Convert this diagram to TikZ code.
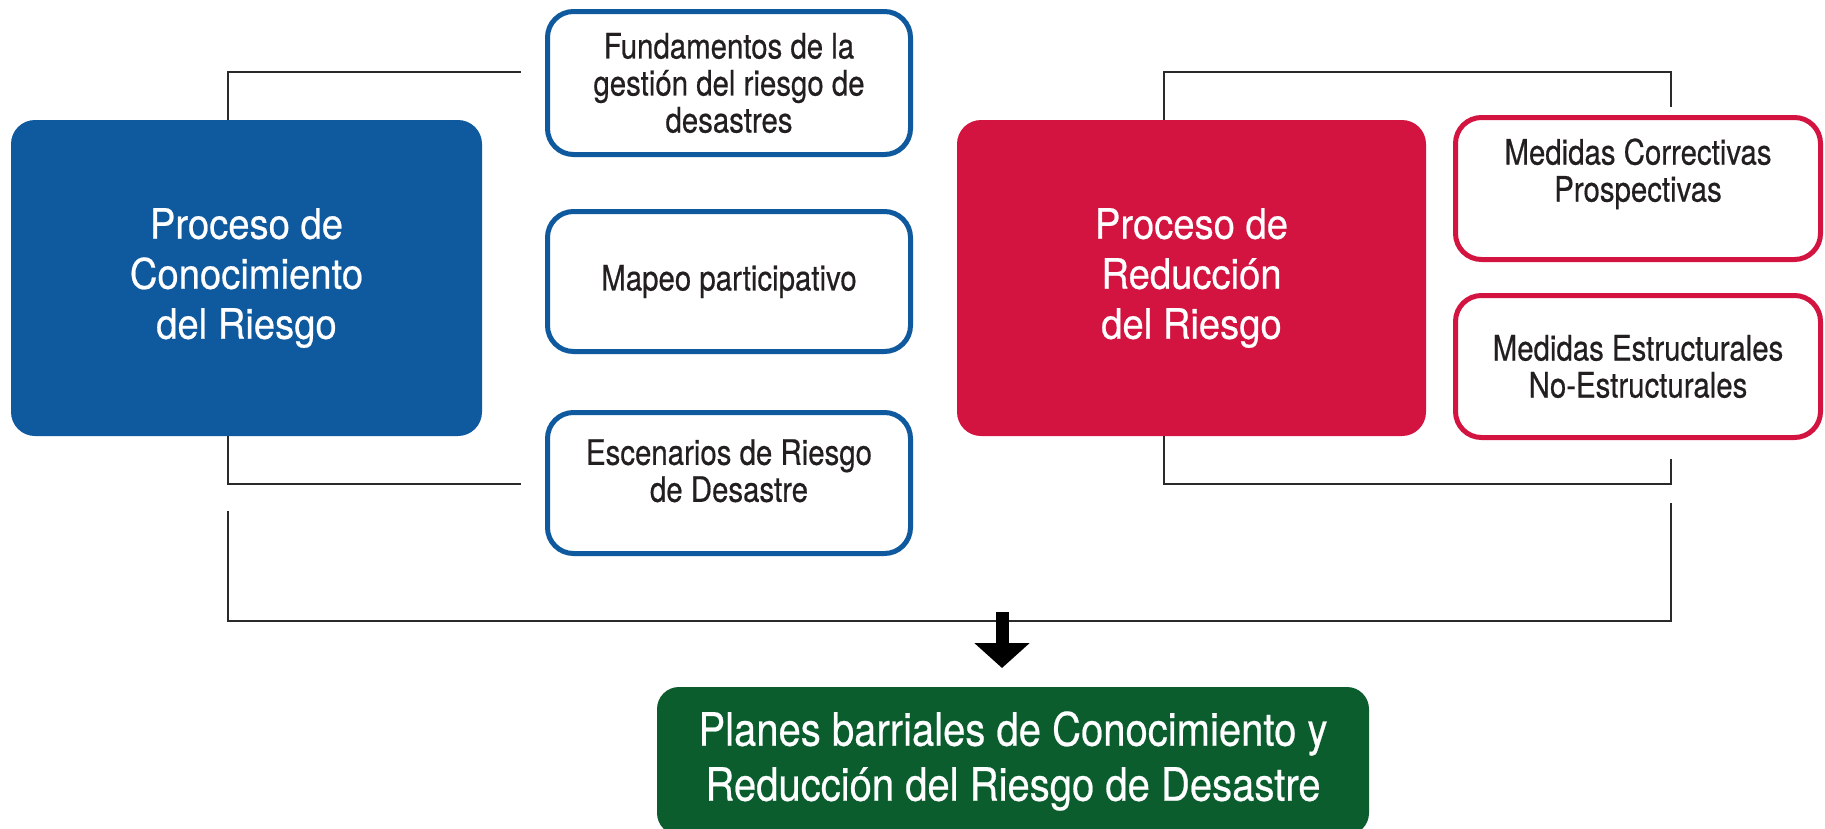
\documentclass[tikz,border=0pt]{standalone}
\usepackage{fontspec}
\setmainfont{TeX Gyre Heros}[FakeStretch=0.84,FakeBold=0.5]
\newfontfamily\bigfont{TeX Gyre Heros}[FakeStretch=0.91,FakeBold=0.5]
\newfontfamily\planfont{TeX Gyre Heros}[FakeStretch=0.87,FakeBold=0.5]
\usetikzlibrary{arrows.meta}
\definecolor{cblue}{HTML}{0F5A9E}
\definecolor{cred}{HTML}{D31441}
\definecolor{cgreen}{HTML}{0B5D2E}
\definecolor{ctext}{HTML}{231F20}
\definecolor{cline}{HTML}{2A2A2A}
\tikzset{
  bigbox/.style={rounded corners=24pt, inner sep=0pt, align=center, text=white,
    font=\bigfont\fontsize{42}{50}\selectfont},
  smallbox/.style={draw, line width=5pt, fill=white, rounded corners=26pt, inner sep=0pt,
    align=center, text=ctext, font=\fontsize{35}{37}\selectfont,
    minimum width=363pt, minimum height=142pt},
  link/.style={draw=cline, line width=2pt}
}
\begin{document}
\begin{tikzpicture}[x=1pt,y=-1pt]
\clip (0,0) rectangle (1825,828);
\fill[white] (0,0) rectangle (1825,828);

% main process boxes
\node[bigbox, fill=cblue, minimum width=471pt, minimum height=316pt] (cono) at (246.5,278)
  {Proceso de\\Conocimiento\\del Riesgo};
\node[bigbox, fill=cred, minimum width=469pt, minimum height=316pt] (redu) at (1191.5,278)
  {Proceso de\\Reducción\\del Riesgo};

% blue outlined boxes
\node[smallbox, draw=cblue, minimum height=143pt] (fund) at (729,83)
  {Fundamentos de la\\gestión del riesgo de\\desastres};
\node[smallbox, draw=cblue, minimum height=140pt] (mapeo) at (729,281.5)
  {Mapeo participativo};
\node[smallbox, draw=cblue, minimum height=141pt] (esc) at (729,483)
  {Escenarios de Riesgo\\de Desastre\\[-12pt]\mbox{}};

% red outlined boxes
\node[smallbox, draw=cred, minimum width=365pt] (corr) at (1638,188.5)
  {Medidas Correctivas\\Prospectivas\\\mbox{}};
\node[smallbox, draw=cred, minimum width=365pt] (estr) at (1638,366.5)
  {Medidas Estructurales\\No-Estructurales};

% result box
\node[rounded corners=22pt, fill=cgreen, inner sep=0pt, align=center, text=white,
  font=\planfont\fontsize{46}{55}\selectfont, minimum width=712pt, minimum height=148pt]
  (plan) at (1013,761) {Planes barriales de Conocimiento y\\Reducción del Riesgo de Desastre};

% connector coordinates
\coordinate (lt) at (521,72);
\coordinate (lb) at (521,484);
\coordinate (bl) at (228,511);
\coordinate (jl) at (228,621);
\coordinate (jr) at (1671,621);
\coordinate (br) at (1671,503);
\coordinate (rtc) at (1671,72);
\coordinate (rt) at (1671,107);
\coordinate (rbc) at (1671,484);
\coordinate (rb) at (1671,459);
\coordinate (ja) at (1002,612);
\coordinate (jb) at (1002,668);

% brackets
\draw[link] (lt) -| ([xshift=217pt]cono.north west);
\draw[link] ([xshift=217pt]cono.south west) |- (lb);
\draw[link] ([xshift=207pt]redu.north west) |- (rtc) -- (rt);
\draw[link] ([xshift=207pt]redu.south west) |- (rbc) -- (rb);
\draw[link] (bl) -- (jl) -- (jr) -- (br);

% arrow
\draw[draw=black, line width=13pt, -{Triangle[width=54pt,length=25pt]}] (ja) -- (jb);
\end{tikzpicture}
\end{document}
